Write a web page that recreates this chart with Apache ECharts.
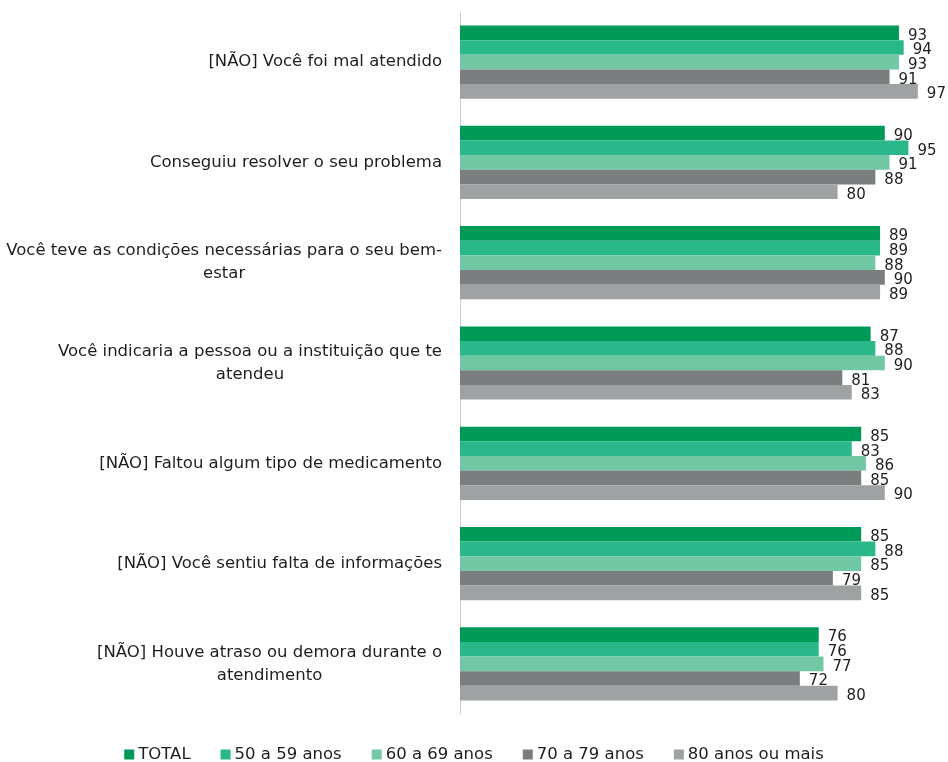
<!DOCTYPE html>
<html>
<head>
<meta charset="utf-8">
<script src="https://cdn.jsdelivr.net/npm/echarts@6/dist/echarts.min.js"></script>
<style>html,body{margin:0;padding:0;background:#fff;}#c{width:948px;height:762px;}</style>
</head>
<body>
<div id="c"></div>
<script>
var categories = [
  "[NÃO] Você foi mal atendido",
  "Conseguiu resolver o seu problema",
  "Você teve as condições necessárias para o seu bem-\nestar",
  "Você indicaria a pessoa ou a instituição que te\natendeu",
  "[NÃO] Faltou algum tipo de medicamento",
  "[NÃO] Você sentiu falta de informações",
  "[NÃO] Houve atraso ou demora durante o\natendimento"
];
var seriesNames = ["TOTAL", "50 a 59 anos", "60 a 69 anos", "70 a 79 anos", "80 anos ou mais"];
var total   = [93, 90, 89, 87, 85, 85, 76];
var age5059 = [94, 95, 89, 88, 83, 88, 76];
var age6069 = [93, 91, 88, 90, 86, 85, 77];
var age7079 = [91, 88, 90, 81, 85, 79, 72];
var age80   = [97, 80, 89, 83, 90, 85, 80];
var colors = ["#009a58", "#2ab88a", "#72c7a5", "#7a7e7f", "#9fa2a3"];

var FONT = "DejaVu Sans";
var FS = 16.5;
var ctx = document.createElement("canvas").getContext("2d");
ctx.font = FS + "px '" + FONT + "'";
var rich = {};
categories.forEach(function (c, i) {
  var lines = c.split("\n");
  var w = ctx.measureText(lines[0]).width;
  rich["a" + i] = { fontFamily: FONT, fontSize: FS, color: "#1e1e1e", lineHeight: 23 };
  rich["b" + i] = { fontFamily: FONT, fontSize: FS, color: "#1e1e1e", lineHeight: 23, width: w, align: "center" };
});

var all = [total, age5059, age6069, age7079, age80];
var series = all.map(function (d, i) {
  return {
    name: seriesNames[i],
    type: "bar",
    data: d,
    barGap: "0%",
    barCategoryGap: "27%",
    itemStyle: { color: colors[i] },
    label: { show: true, position: "right", distance: 9, color: "#1e1e1e", fontFamily: FONT, fontSize: 15, offset: [0, 3] }
  };
});

var chart = echarts.init(document.getElementById("c"));
chart.setOption({
  animation: false,
  textStyle: { fontFamily: FONT },
  grid: { left: 460, right: 16, top: 12, bottom: 48, containLabel: false },
  legend: {
    top: 741,
    left: "center",
    icon: "rect",
    itemWidth: 10,
    itemHeight: 10,
    itemGap: 30,
    textStyle: { fontFamily: FONT, fontSize: 16.5, color: "#1e1e1e", padding: [0, 0, 0, -1] },
    data: seriesNames
  },
  xAxis: {
    type: "value", min: 0, max: 100,
    axisLine: { show: false }, axisTick: { show: false },
    axisLabel: { show: false }, splitLine: { show: false }
  },
  yAxis: {
    type: "category",
    inverse: true,
    data: categories,
    axisLine: { show: true, lineStyle: { color: "#cccccc", width: 1 } },
    axisTick: { show: false },
    axisLabel: {
      margin: 18,
      formatter: function (v, idx) {
        var lines = v.split("\n");
        if (lines.length === 1) return "{a" + idx + "|" + lines[0] + "}";
        return "{a" + idx + "|" + lines[0] + "}\n{b" + idx + "|" + lines[1] + "}";
      },
      rich: rich
    }
  },
  series: series
});
</script>
</body>
</html>
